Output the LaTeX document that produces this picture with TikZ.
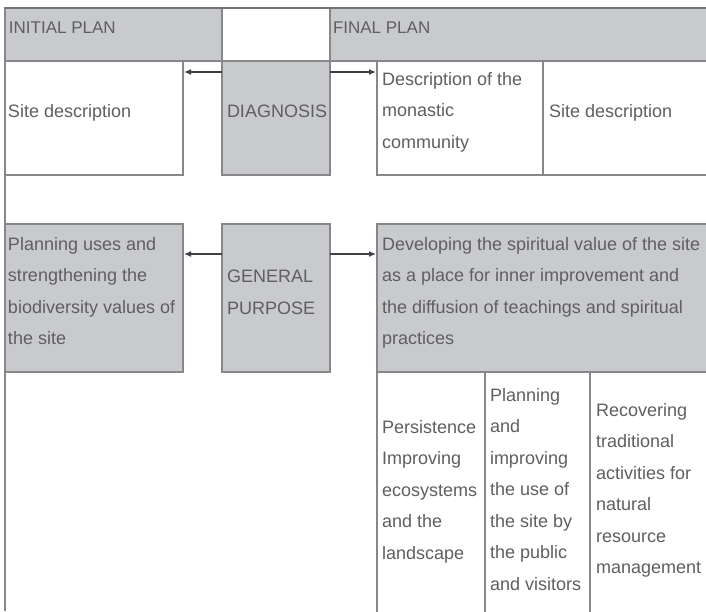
\documentclass[tikz,border=0pt]{standalone}
\usepackage{fontspec}
\setmainfont{Liberation Sans}
\usetikzlibrary{arrows.meta}
\definecolor{boxgray}{RGB}{201,202,205}
\definecolor{linegray}{RGB}{135,135,138}
\definecolor{txtgray}{RGB}{95,95,98}
\tikzset{
  cell/.style={draw=linegray, line width=1.6pt, anchor=north west, inner sep=0pt, outer sep=0pt},
  graycell/.style={cell, fill=boxgray},
  whitecell/.style={cell, fill=white},
  txt/.style={anchor=north west, inner sep=0pt, outer sep=0pt, text=txtgray, align=left,
    font=\fontsize{18}{31.5}\selectfont},
  headtxt/.style={txt, font=\fontsize{17}{20}\selectfont},
  arr/.style={draw=black!75, line width=1.3pt, -{Latex[length=7pt,width=6pt]}, shorten >=1pt},
}
\begin{document}
\begin{tikzpicture}[x=1pt,y=-1pt]
\useasboundingbox (0,0) rectangle (706,611);
\clip (0,0) rectangle (706,611);
\fill[white] (0,0) rectangle (706,611);
% frame line on the left
\draw[linegray, line width=1.6pt] (5,8) -- (5,611);
% header
\node[graycell, minimum width=217pt, minimum height=53pt] (hl) at (5,8) {};
\node[whitecell, minimum width=108pt, minimum height=53pt] (hm) at (222,8) {};
\node[graycell, minimum width=390pt, minimum height=53pt] (hr) at (330,8) {};
\draw[black!55, line width=2pt] (hl.north west) -- (hr.north east);
\node[headtxt] (t1) at (9,22) {INITIAL PLAN};
\node[headtxt] (t2) at (333,22) {FINAL PLAN};
% row 1
\node[whitecell, minimum width=178pt, minimum height=114pt] (sd1) at (5,61) {};
\node[graycell, minimum width=108pt, minimum height=114pt] (diag) at (222,61) {};
\node[whitecell, minimum width=166pt, minimum height=114pt] (desc) at (377,61) {};
\node[whitecell, minimum width=200pt, minimum height=114pt] (sd2) at (543,61) {};
\node[txt] (x1) at (8,104) {Site description};
\node[txt] (x2) at (227,105) {DIAGNOSIS};
\node[txt] (x3) at (382,72) {Description of the\\monastic\\community};
\node[txt] (x4) at (549,104) {Site description};
% row 2
\node[graycell, minimum width=178pt, minimum height=148pt] (pl) at (5,224) {};
\node[graycell, minimum width=108pt, minimum height=148pt] (gp) at (222,224) {};
\node[graycell, minimum width=340pt, minimum height=148pt] (dev) at (377,224) {};
\node[txt] (x5) at (8,237) {Planning uses and\\strengthening the\\biodiversity values of\\the site};
\node[txt] (x6) at (227,270) {GENERAL\\PURPOSE};
\node[txt] (x7) at (382,237) {Developing the spiritual value of the site\\as a place for inner improvement and\\the diffusion of teachings and spiritual\\practices};
% bottom columns
\node[whitecell, minimum width=108pt, minimum height=250pt] (c1) at (377,372) {};
\node[whitecell, minimum width=105pt, minimum height=250pt] (c2) at (485,372) {};
\node[whitecell, minimum width=130pt, minimum height=250pt] (c3) at (590,372) {};
\node[txt] (x8) at (382,420) {Persistence\\Improving\\ecosystems\\and the\\landscape};
\node[txt] (x9) at (490,388) {Planning\\and\\improving\\the use of\\the site by\\the public\\and visitors};
\node[txt] (x10) at (596,403) {Recovering\\traditional\\activities for\\natural\\resource\\management};
% connectors
\coordinate (r1) at (0,72);
\coordinate (r2) at (0,254);
\draw[arr] (diag.west |- r1) -- (sd1.east |- r1);
\draw[arr] (diag.east |- r1) -- (desc.west |- r1);
\draw[arr] (gp.west |- r2) -- (pl.east |- r2);
\draw[arr] (gp.east |- r2) -- (dev.west |- r2);
\end{tikzpicture}
\end{document}
